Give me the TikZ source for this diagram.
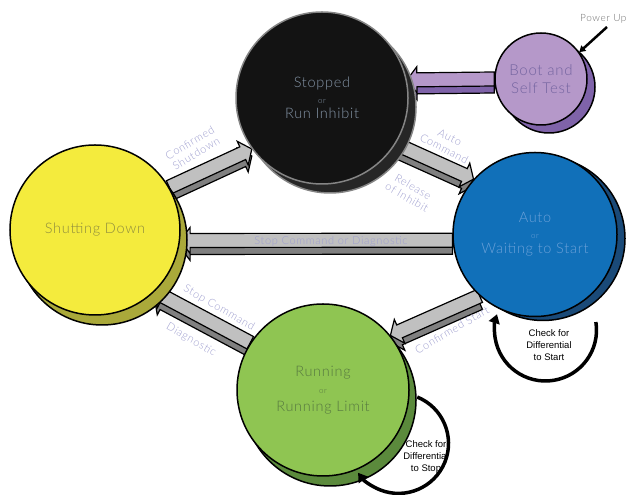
\documentclass[tikz,border=0pt]{standalone}
\usepackage{fontspec}
\setmainfont{Lato}
\IfFontExistsTF{Lato Light}{%
  \newfontfamily\statefont[LetterSpace=5]{Lato Light}%
  \newfontfamily\lblfont[LetterSpace=6]{Lato Light}%
}{%
  \newfontfamily\statefont[LetterSpace=5]{Lato}%
  \newfontfamily\lblfont[LetterSpace=6]{Lato}%
}
\newfontfamily\chkfont{Liberation Sans}
\usetikzlibrary{calc,shadows,arrows.meta}
\pgfdeclarelayer{back}
\pgfsetlayers{back,main}

\definecolor{stopfill}{HTML}{131313}
\definecolor{stopshade}{HTML}{262626}
\definecolor{stopedge}{HTML}{858585}
\definecolor{stoptext}{HTML}{8494A6}
\definecolor{bootfill}{HTML}{B598C9}
\definecolor{bootshade}{HTML}{7F63A9}
\definecolor{boottext}{HTML}{7464A0}
\definecolor{sdfill}{HTML}{F4EB3D}
\definecolor{sdshade}{HTML}{AAA93A}
\definecolor{sdtext}{HTML}{8E8C3E}
\definecolor{autofill}{HTML}{1170B9}
\definecolor{autoshade}{HTML}{1A4A78}
\definecolor{autotext}{HTML}{6AA0D8}
\definecolor{runfill}{HTML}{8FC552}
\definecolor{runshade}{HTML}{5B8A3C}
\definecolor{runtext}{HTML}{577940}
\definecolor{arrowlight}{HTML}{C0C0C0}
\definecolor{arrowdark}{HTML}{808080}
\definecolor{lbltext}{HTML}{9F9FCF}
\definecolor{pwrtext}{HTML}{707070}

\newcommand{\orword}{{\fontsize{8bp}{9bp}\selectfont or}}
\newcommand{\blockarrow}[4]{%
  \coordinate (ba-s) at (#3);
  \coordinate (ba-t) at (#4);
  \coordinate (ba-h) at ($(ba-t)!10bp!(ba-s)$);
  \foreach \bacol/\badrop in {#2/-7bp,#1/0bp}{%
    \draw[barrow, fill=\bacol, transform canvas={yshift=\badrop}]
      ($(ba-s)!7bp!90:(ba-t)$) -- ($(ba-h)!7bp!90:(ba-t)$) -- ($(ba-h)!13bp!90:(ba-t)$) -- (ba-t)
      -- ($(ba-h)!13bp!-90:(ba-t)$) -- ($(ba-h)!7bp!-90:(ba-t)$) -- ($(ba-s)!7bp!-90:(ba-t)$) -- cycle;
  }%
}

\tikzset{
  state/.style={circle, draw=black, line width=1.5bp, inner sep=0pt, align=center,
    minimum size=#1, font=\statefont\fontsize{14.5bp}{15.5bp}\selectfont},
  barrow/.style={draw=black, line width=1.2bp, line join=miter},
  lbl/.style={text=lbltext, align=center, inner sep=0pt,
    font=\lblfont\fontsize{11bp}{12.5bp}\selectfont},
  chk/.style={align=center, inner sep=0pt, font=\chkfont\fontsize{9.5bp}{12bp}\selectfont},
  selfloop/.style={draw=black, line width=3.5bp, -{Triangle[length=9bp,width=11bp]}},
}

\begin{document}
\begin{tikzpicture}[x=1bp,y=1bp]
	\useasboundingbox (0,0) rectangle (631,495);
	
	\node[state=172bp, fill=stopfill, draw=stopedge, text=stoptext,
		copy shadow={shadow xshift=8bp, shadow yshift=-9bp, fill=stopshade, draw=stopedge}]
		(stop) at (322,397) {Stopped\\\orword\\Run Inhibit};
	\node[state=92bp, fill=bootfill, text=boottext, font=\statefont\fontsize{15bp}{18bp}\selectfont,
		copy shadow={shadow xshift=8bp, shadow yshift=-8bp, fill=bootshade}]
		(boot) at (541,416) {Boot and\\Self Test};
	\node[state=170bp, fill=sdfill, text=sdtext,
		copy shadow={shadow xshift=7bp, shadow yshift=-10bp, fill=sdshade}]
		(sd) at (95,265) {Shutting Down};
	\node[state=164bp, fill=autofill, text=autotext,
		copy shadow={shadow xshift=8bp, shadow yshift=-4bp, fill=autoshade}]
		(auto) at (535,260.5) {Auto\\\orword\\Waiting to Start};
	\node[state=172bp, fill=runfill, text=runtext, font=\statefont\fontsize{14.5bp}{17.5bp}\selectfont,
		copy shadow={shadow xshift=7bp, shadow yshift=-10bp, fill=runshade}]
		(run) at (323,105) {Running\\\orword\\Running Limit};
	
	\begin{pgfonlayer}{back}
		\blockarrow{bootfill}{bootshade}{boot.west}{stop.12}
		\blockarrow{arrowlight}{arrowdark}{sd.30}{stop.216}
		\blockarrow{arrowlight}{arrowdark}{stop.328}{auto.138}
		\blockarrow{arrowlight}{arrowdark}{auto.184}{sd.-7}
		\blockarrow{arrowlight}{arrowdark}{auto.228}{run.39}
		\blockarrow{arrowlight}{arrowdark}{run.147}{sd.314}
		
		\node[lbl, rotate=31] (lcshut) at (193,347) {Confirmed\\Shutdown};
		\node[lbl, rotate=-27] (lacmd) at (447,352) {Auto\\Command};
		\node[lbl, rotate=-30] (lrel) at (410,303) {Release\\of Inhibit};
		\node[lbl] (lstopdiag) at (331,253.5) {Stop Command or Diagnostic};
		\node[lbl, rotate=30] (lcstart) at (452,165) {Confirmed Start};
		\node[lbl, rotate=-30] (lstop) at (219,187) {Stop Command};
		\node[lbl, rotate=-30] (ldiag) at (191,155) {Diagnostic};
	\end{pgfonlayer}
	
	\coordinate (pwr) at (607,468);
	\node[anchor=east, text=pwrtext, font=\lblfont\fontsize{10bp}{11bp}\selectfont] (pwrtxt) at (630,476) {Power Up};
	\draw[line width=2.5bp, -{Triangle[length=6bp,width=7bp]}] (pwr) -- (boot.35);
	
	\coordinate (autoloop) at (545.5,165);
	\draw[selfloop] ($(autoloop)+(9:51)$) arc[start angle=9, end angle=-198, radius=51];
	\node[chk] (chkstart) at (549,150) {Check for\\Differential\\to Start};
	
	\coordinate (runloop) at (398.5,51.6);
	\draw[selfloop] ($(runloop)+(68:50)$) arc[start angle=68, end angle=-144, radius=50];
	\node[chk] (chkstop) at (426,38) {Check for\\Differential\\to Stop};
\end{tikzpicture}
\end{document}
